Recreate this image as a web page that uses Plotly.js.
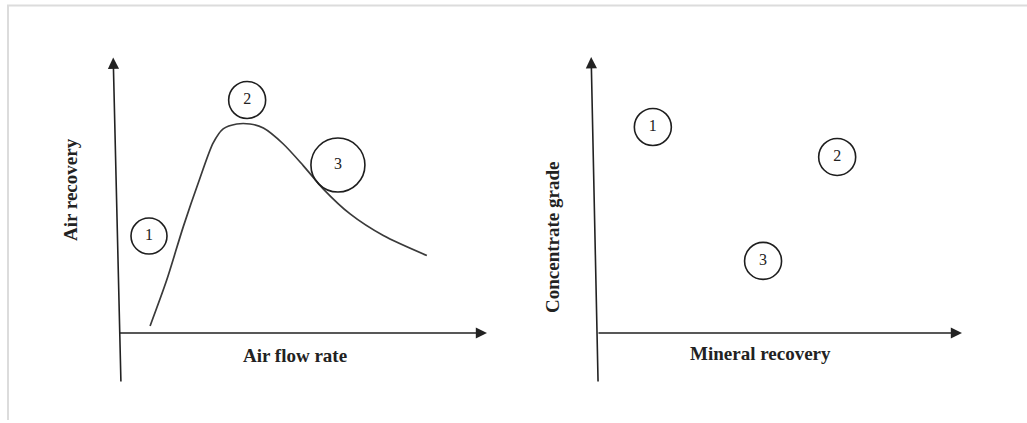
<!DOCTYPE html>
<html>
<head>
<meta charset="utf-8">
<script src="https://cdn.plot.ly/plotly-3.0.1.min.js"></script>
<style>html,body{margin:0;padding:0;background:#fff;}#chart{width:1027px;height:423px;}</style>
</head>
<body>
<div id="chart"></div>
<script>
// Left panel: air recovery vs air flow rate (schematic curve, arbitrary units)
var airFlow = [0.87, 1.32, 1.77, 2.22, 2.58, 2.85, 3.22, 3.58, 3.94, 4.48, 5.02, 5.56, 6.29, 7.19, 8.37];
var airRecovery = [0.26, 1.96, 3.94, 5.73, 7.04, 7.56, 7.74, 7.74, 7.59, 7.00, 6.20, 5.34, 4.41, 3.61, 2.87];
// Left panel regime markers
var leftLabels = ["1", "2", "3"];
var leftX = [0.84, 3.50, 5.96];
var leftY = [3.59, 8.63, 6.22];
// Right panel: concentrate grade vs mineral recovery for each regime
var rightLabels = ["1", "2", "3"];
var mineralRecovery = [1.53, 6.58, 4.55];
var concGrade = [7.63, 6.52, 2.67];
// Axis titles
var leftXTitle = "Air flow rate";
var leftYTitle = "Air recovery";
var rightXTitle = "Mineral recovery";
var rightYTitle = "Concentrate grade";

var W = 1027, H = 423;
var ink = "#222";
var fontFam = "Liberation Serif, 'Times New Roman', serif";

var traces = [
  {x: airFlow, y: airRecovery, xaxis: "x", yaxis: "y", mode: "lines",
   line: {color: "#3a3a3a", width: 1.7, shape: "spline", smoothing: 0.8}, hoverinfo: "skip"},
  {x: leftX, y: leftY, xaxis: "x", yaxis: "y", mode: "markers+text", text: leftLabels,
   textposition: "middle center", textfont: {family: fontFam, size: 16, color: "#222"},
   marker: {symbol: "circle-open", size: [36, 37, 54], opacity: 1, color: "#1e1e1e", line: {width: 1.6, color: "#1e1e1e"}}, hoverinfo: "skip"},
  {x: mineralRecovery, y: concGrade, xaxis: "x2", yaxis: "y2", mode: "markers+text", text: rightLabels,
   textposition: "middle center", textfont: {family: fontFam, size: 16, color: "#222"},
   marker: {symbol: "circle-open", size: 37, opacity: 1, color: "#1e1e1e", line: {width: 1.6, color: "#1e1e1e"}}, hoverinfo: "skip"}
];

function ax(domain, range) {
  return {domain: domain, range: range, showgrid: false, zeroline: false, showline: false,
          showticklabels: false, ticks: "", fixedrange: true};
}
// pixel frames: left x-axis origin 118px, 36.9 px/unit; right origin 597px, 36.5 px/unit; y origin 333px, 27 px/unit
var yDomain = [(H - 400) / H, (H - 40) / H];
var yRange = [(333 - 400) / 27, (333 - 40) / 27];

function arrow(xr, yr, x0, y0, x1, y1) {
  return {xref: xr, yref: yr, axref: xr, ayref: yr, x: x1, y: y1, ax: x0, ay: y0, text: "",
          showarrow: true, arrowhead: 2, arrowsize: 1.4, arrowwidth: 1.6, arrowcolor: ink};
}
function label(xr, yr, x, y, txt, angle) {
  return {xref: xr, yref: yr, x: x, y: y, text: txt, showarrow: false, textangle: angle || 0,
          font: {family: fontFam, size: 19, color: "#222", weight: "bold"}, xanchor: "center", yanchor: "middle"};
}

var layout = {
  width: W, height: H, margin: {l: 0, r: 0, t: 0, b: 0},
  paper_bgcolor: "#fff", plot_bgcolor: "rgba(0,0,0,0)", showlegend: false,
  xaxis: ax([40 / W, 500 / W], [(40 - 118) / 36.9, (500 - 118) / 36.9]),
  yaxis: ax(yDomain, yRange),
  xaxis2: ax([520 / W, 990 / W], [(520 - 597) / 36.5, (990 - 597) / 36.5]),
  yaxis2: ax(yDomain, yRange),
  annotations: [
    arrow("x", "y", 0, 0, 10.0, 0),
    arrow("x", "y", 0.08, -1.85, -0.13, 10.2),
    arrow("x2", "y2", 0, 0, 10.0, 0),
    arrow("x2", "y2", 0.03, -1.85, -0.16, 10.22),
    label("x", "y", (295 - 118) / 36.9, (333 - 355) / 27, leftXTitle),
    label("x", "y", (70 - 118) / 36.9, (333 - 190) / 27, leftYTitle, -90),
    label("x2", "y2", (760 - 597) / 36.5, (333 - 353) / 27, rightXTitle),
    label("x2", "y2", (552 - 597) / 36.5, (333 - 238) / 27, rightYTitle, -90)
  ],
  shapes: [
    {type: "line", xref: "paper", yref: "paper", x0: 7 / W, x1: 1, y0: (H - 5.5) / H, y1: (H - 5.5) / H,
     line: {color: "#dcdcdc", width: 2}},
    {type: "line", xref: "paper", yref: "paper", x0: 8 / W, x1: 8 / W, y0: (H - 420) / H, y1: (H - 5) / H,
     line: {color: "#dcdcdc", width: 2}}
  ]
};

Plotly.newPlot("chart", traces, layout, {staticPlot: true, displayModeBar: false});
</script>
</body>
</html>
